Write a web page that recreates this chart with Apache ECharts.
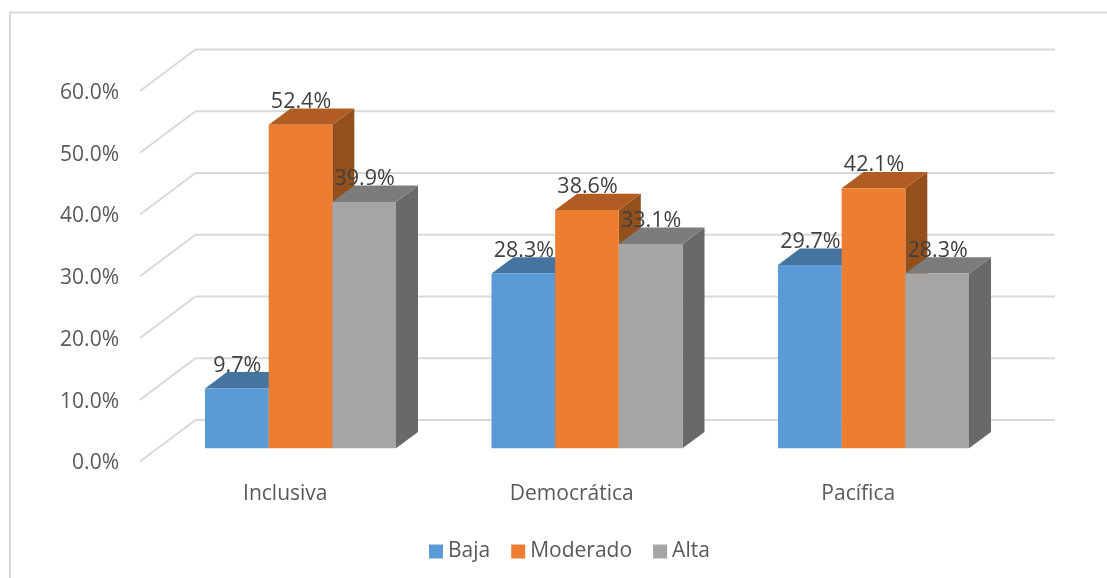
<!DOCTYPE html>
<html>
<head>
<meta charset="utf-8">
<style>html,body{margin:0;padding:0;background:#fff}#c{width:1107px;height:578px}</style>
<script src="https://cdn.jsdelivr.net/npm/echarts@6/dist/echarts.min.js"></script>
</head>
<body>
<div id="c"></div>
<script>
var categories = ['Inclusiva', 'Democrática', 'Pacífica'];
var baja = [9.7, 28.3, 29.7];
var moderado = [52.4, 38.6, 42.1];
var alta = [39.9, 33.1, 28.3];
var ticks = [0, 10, 20, 30, 40, 50, 60];

var FONT = '"Open Sans", "Noto Sans", sans-serif';
var seriesDefs = [
  {name: 'Baja', data: baja, front: '#5b9bd5', top: '#44749f', side: '#3a6a94', idx: 0},
  {name: 'Moderado', data: moderado, front: '#ed7d31', top: '#b15c22', side: '#93501d', idx: 1},
  {name: 'Alta', data: alta, front: '#a5a5a5', top: '#7c7c7c', side: '#696969', idx: 2}
];

// Perspective offsets of the 3D scene, in pixels
var BAR_SHIFT_X = 15.25, BAR_SHIFT_Y = -13.2;
var DEPTH_X = 22, DEPTH_Y = -16.3;
var WALL_X = 53.5, WALL_Y = -41.5;

function barGeom(api, idx) {
  var base = api.coord([api.value(0), 0]);
  var topP = api.coord([api.value(0), api.value(1)]);
  var band = api.size([1, 0])[0];
  var w = band * 2 / 9;
  var x0 = base[0] + BAR_SHIFT_X - 1.5 * w + idx * w;
  return {x0: x0, x1: x0 + w, yb: base[1] + BAR_SHIFT_Y, yt: topP[1] + BAR_SHIFT_Y};
}

var series = [];
series.push({
  type: 'custom', name: 'grid', silent: true, z: 1, clip: false,
  data: ticks.map(function (t) { return [t]; }),
  encode: {y: 0},
  renderItem: function (params, api) {
    var sys = params.coordSys;
    var y = api.coord([0, api.value(0)])[1];
    return {
      type: 'polyline',
      shape: {points: [[sys.x - 2, y], [sys.x + WALL_X, y + WALL_Y], [sys.x + sys.width + WALL_X, y + WALL_Y]]},
      style: {stroke: '#d9d9d9', lineWidth: 2, fill: null}
    };
  }
});

seriesDefs.forEach(function (s) {
  series.push({
    type: 'custom', name: s.name, z: 2, clip: false,
    itemStyle: {color: s.front},
    encode: {x: 0, y: 1},
    data: s.data.map(function (v, i) { return [i, v]; }),
    renderItem: function (params, api) {
      var g = barGeom(api, s.idx);
      return {
        type: 'group',
        children: [
          {type: 'polygon', shape: {points: [[g.x1, g.yb], [g.x1 + DEPTH_X, g.yb + DEPTH_Y], [g.x1 + DEPTH_X, g.yt + DEPTH_Y], [g.x1, g.yt]]}, style: {fill: s.side}},
          {type: 'polygon', shape: {points: [[g.x0, g.yt], [g.x0 + DEPTH_X, g.yt + DEPTH_Y], [g.x1 + DEPTH_X, g.yt + DEPTH_Y], [g.x1, g.yt]]}, style: {fill: s.top}},
          {type: 'rect', shape: {x: g.x0, y: g.yt, width: g.x1 - g.x0, height: g.yb - g.yt}, style: {fill: s.front}}
        ]
      };
    }
  });
});

seriesDefs.forEach(function (s) {
  series.push({
    type: 'custom', name: s.name + ' labels', z: 5, clip: false, silent: true,
    encode: {x: 0, y: 1},
    data: s.data.map(function (v, i) { return [i, v]; }),
    renderItem: function (params, api) {
      var g = barGeom(api, s.idx);
      return {
        type: 'text',
        style: {
          x: (g.x0 + g.x1) / 2 + 0.5, y: g.yt - 23,
          text: api.value(1).toFixed(1) + '%',
          fill: '#404040', font: '21.5px ' + FONT,
          align: 'center', verticalAlign: 'middle'
        }
      };
    }
  });
});

var chart = echarts.init(document.getElementById('c'), null, {renderer: 'canvas'});
chart.setOption({
  animation: false,
  backgroundColor: '#fff',
  graphic: [{
    type: 'polyline', z: 0, silent: true,
    shape: {points: [[10, 600], [10, 12.5], [1120, 12.5]]},
    style: {fill: null, stroke: '#d9d9d9', lineWidth: 2}
  }],
  grid: {left: 142, top: 91, width: 859.5, height: 370.5},
  legend: {
    left: 424, top: 536, itemWidth: 14, itemHeight: 14, itemGap: 21,
    data: seriesDefs.map(function (s) { return {name: s.name, icon: 'rect'}; }),
    textStyle: {color: '#595959', fontFamily: FONT, fontSize: 21}
  },
  xAxis: {
    type: 'category', data: categories,
    axisLine: {show: false}, axisTick: {show: false},
    axisLabel: {color: '#595959', fontFamily: FONT, fontSize: 21, margin: 22}
  },
  yAxis: {
    type: 'value', min: 0, max: 60, interval: 10,
    axisLine: {show: false}, axisTick: {show: false}, splitLine: {show: false},
    axisLabel: {color: '#595959', fontFamily: FONT, fontSize: 21, margin: 23,
      verticalAlign: 'top', lineHeight: 4,
      formatter: function (v) { return v.toFixed(1) + '%'; }}
  },
  series: series
});
</script>
</body>
</html>
